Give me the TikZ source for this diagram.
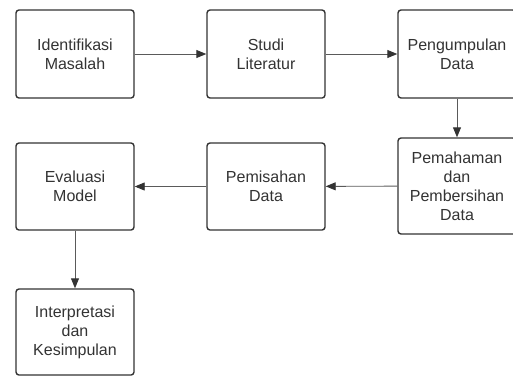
\documentclass[tikz,border=0pt]{standalone}
\usepackage{fontspec}
\setmainfont{Liberation Sans}
\usetikzlibrary{arrows.meta}
\definecolor{boxline}{HTML}{333333}
\definecolor{txt}{HTML}{333333}
\definecolor{conn}{HTML}{5A5A5A}
\tikzset{
  stepbox/.style={draw=boxline, line width=1.4pt, rounded corners=3pt, fill=white,
    minimum width=118pt, minimum height=88pt, align=center, text=txt, inner sep=0pt,
    font=\fontsize{16}{19}\selectfont},
  flow/.style={draw=conn, line width=0.9pt, -{Triangle[length=10pt,width=8pt,color=boxline]}}
}
\begin{document}
\begin{tikzpicture}[x=1pt,y=-1pt]
\useasboundingbox (0,0) rectangle (513,376);
\begin{scope}
\clip (0,0) rectangle (513,376);
\node[stepbox] (a) at (75,54) {Identifikasi\\Masalah};
\node[stepbox] (b) at (266,54) {Studi\\Literatur};
\node[stepbox] (c) at (457,54) {Pengumpulan\\Data};
\node[stepbox, minimum height=96pt] (d) at (457,186) {Pemahaman\\dan\\Pembersihan\\Data};
\node[stepbox, minimum height=87pt] (e) at (266,186.5) {Pemisahan\\Data};
\node[stepbox, minimum height=87pt] (f) at (75,186.5) {Evaluasi\\Model};
\node[stepbox, minimum height=86pt] (g) at (75,332) {Interpretasi\\dan\\Kesimpulan};
\draw[flow] (a) -- (b);
\draw[flow] (b) -- (c);
\draw[flow] (c) -- (d);
\draw[flow] (d) -- (e);
\draw[flow] (e) -- (f);
\draw[flow] (f) -- (g);
\end{scope}
\end{tikzpicture}
\end{document}
